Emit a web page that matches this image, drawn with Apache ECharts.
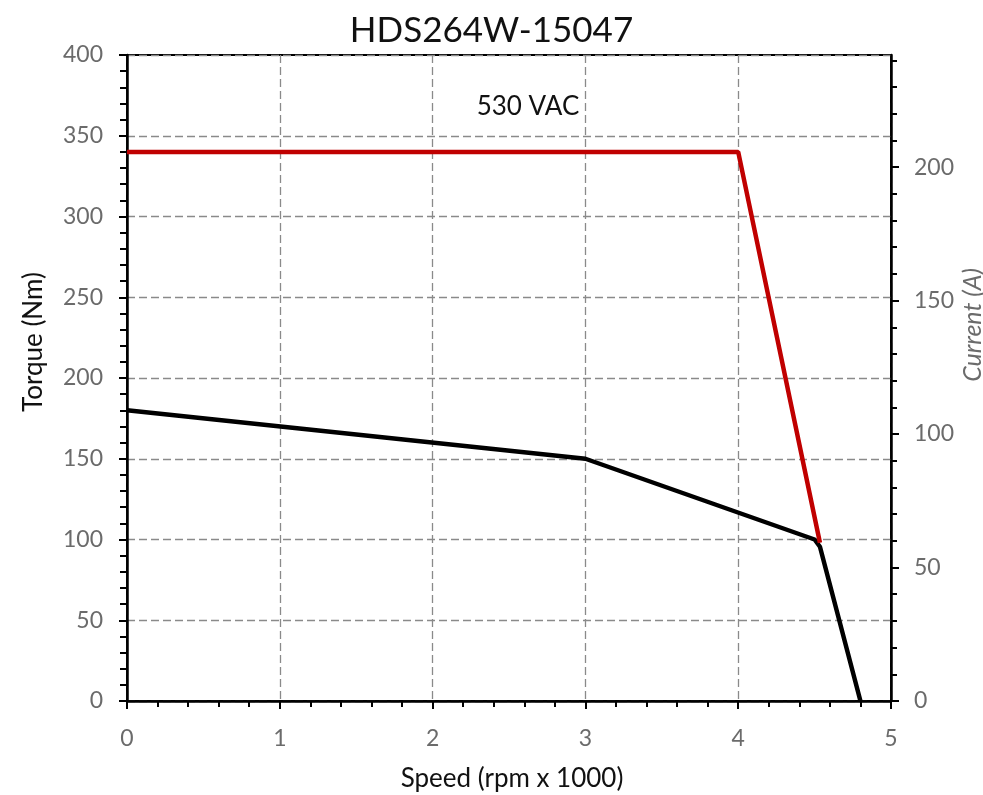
<!DOCTYPE html>
<html>
<head>
<meta charset="utf-8">
<script src="https://cdn.jsdelivr.net/npm/echarts@6/dist/echarts.min.js"></script>
<style>
html,body{margin:0;padding:0;background:#fff;}
#chart{width:983px;height:795px;}
</style>
</head>
<body>
<div id="chart"></div>
<script>
// ---- data ----
const titleText = 'HDS264W-15047';
const annotationText = '530 VAC';
const xName = 'Speed (rpm x 1000)';
const yLeftName = 'Torque (Nm)';
const yRightName = 'Current (A)';

const blackSpeed = [0, 3, 4.5, 4.535, 4.8];
const blackTorque = [180, 150, 100, 95.5, 0];
const redSpeed = [0, 4, 4.535];
const redTorque = [340, 340, 98];

const xTicks = [0, 1, 2, 3, 4, 5];
const leftTicks = [0, 50, 100, 150, 200, 250, 300, 350, 400];
const rightTicks = [0, 50, 100, 150, 200];
const rightMinorTicks = [0,10,20,30,40,50,60,70,80,90,100,110,120,130,140,150,160,170,180,190,200,210,220,230,240];
const rightMax = 242;

const FONT = 'Lato';
const labelColor = '#6b6b6b';

const chart = echarts.init(document.getElementById('chart'));
const gridLine = {show: true, lineStyle: {color: '#8a8a8a', width: 1.3, type: [8, 4]}};

chart.setOption({
  animation: false,
  backgroundColor: '#fff',
  title: {
    text: titleText, left: 'center', top: 8,
    textStyle: {fontFamily: FONT, fontSize: 35, fontWeight: 'normal', color: '#111'}
  },
  grid: {left: 127, right: 92, top: 55, bottom: 94, show: true, borderColor: '#000', borderWidth: 2, backgroundColor: 'transparent'},
  xAxis: {
    type: 'value', min: 0, max: 5, interval: 1,
    axisLine: {show: true, onZero: false, lineStyle: {color: '#000', width: 2.5}},
    axisTick: {show: true, length: 8, lineStyle: {color: '#000', width: 2}},
    minorTick: {show: true, splitNumber: 5, length: 6, lineStyle: {color: '#000', width: 2}},
    axisLabel: {margin: 26, color: labelColor, fontFamily: FONT, fontSize: 23},
    splitLine: gridLine
  },
  yAxis: [
    {
      type: 'value', min: 0, max: 400, interval: 50, position: 'left',
      axisLine: {show: true, lineStyle: {color: '#000', width: 2.5}},
      axisTick: {show: true, length: 8, lineStyle: {color: '#000', width: 2}},
      minorTick: {show: true, splitNumber: 5, length: 7, lineStyle: {color: '#000', width: 2}},
      axisLabel: {margin: 24, color: labelColor, fontFamily: FONT, fontSize: 23},
      splitLine: gridLine
    },
    {
      type: 'value', min: 0, max: rightMax, position: 'right',
      axisLine: {show: true, lineStyle: {color: '#000', width: 2.5}},
      axisTick: {show: true, length: 8, customValues: rightTicks, lineStyle: {color: '#000', width: 2}},
      axisLabel: {margin: 23, color: labelColor, fontFamily: FONT, fontSize: 23, customValues: rightTicks},
      splitLine: {show: false}
    },
    {
      type: 'value', min: 0, max: rightMax, position: 'right',
      axisLine: {show: false},
      axisTick: {show: true, length: 6, customValues: rightMinorTicks, lineStyle: {color: '#000', width: 2}},
      axisLabel: {show: false},
      splitLine: {show: false}
    }
  ],
  series: [
    {
      type: 'line', yAxisIndex: 0, symbol: 'none',
      lineStyle: {color: '#000', width: 4.5},
      data: blackSpeed.map((s, i) => [s, blackTorque[i]])
    },
    {
      type: 'line', yAxisIndex: 0, symbol: 'none',
      lineStyle: {color: '#c00000', width: 4.5},
      data: redSpeed.map((s, i) => [s, redTorque[i]])
    }
  ],
  graphic: [
    {type: 'text', x: 528, y: 107, style: {text: annotationText, fontFamily: FONT, fontSize: 26, fill: '#111', textAlign: 'center', textVerticalAlign: 'middle'}},
    {type: 'text', x: 512, y: 779, style: {text: xName, fontFamily: FONT, fontSize: 26, fill: '#111', textAlign: 'center', textVerticalAlign: 'middle'}},
    {type: 'text', x: 34, y: 342, rotation: Math.PI / 2, style: {text: yLeftName, fontFamily: FONT, fontSize: 26, fill: '#111', textAlign: 'center', textVerticalAlign: 'middle'}},
    {type: 'text', x: 973, y: 325, rotation: Math.PI / 2, style: {text: yRightName, fontFamily: FONT, fontSize: 25, fontStyle: 'italic', fill: labelColor, textAlign: 'center', textVerticalAlign: 'middle'}}
  ]
});
</script>
</body>
</html>
